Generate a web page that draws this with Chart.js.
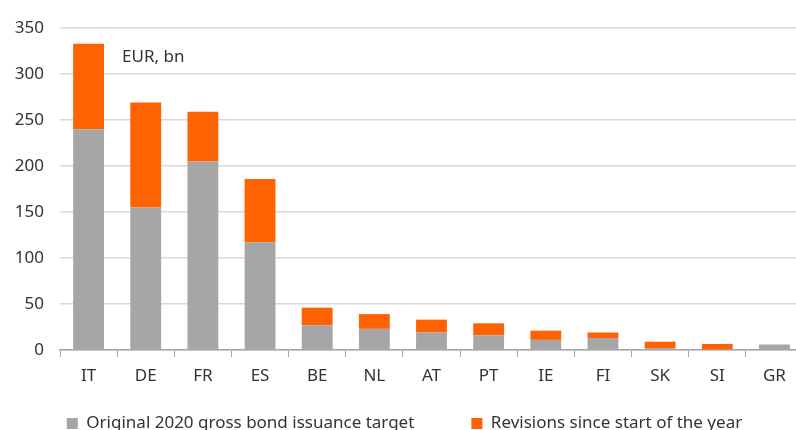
<!DOCTYPE html>
<html>
<head>
<meta charset="utf-8">
<script src="https://cdn.jsdelivr.net/npm/chart.js@4"></script>
<style>
  html, body { margin: 0; padding: 0; background: #fff; overflow: hidden; }
  #wrap { width: 796px; height: 430px; overflow: hidden; }
</style>
</head>
<body>
<div id="wrap"><canvas id="issuanceChart" width="806" height="430"></canvas></div>
<script>
const countries = ["IT", "DE", "FR", "ES", "BE", "NL", "AT", "PT", "IE", "FI", "SK", "SI", "GR"];
const originalTarget = [240, 155, 205, 117, 27, 23, 19, 16, 11, 13, 2, 0.5, 6];
const revisions = [93, 114, 54, 69, 19, 16, 14, 13, 10, 6, 7, 6, 0];
const yTicks = [0, 50, 100, 150, 200, 250, 300, 350];

const FONT = "'Noto Sans', sans-serif";
const TEXT = "#333333";
const LEGEND_PAD = 57;

// "EUR, bn" unit label inside the plot
const unitLabel = {
  id: "unitLabel",
  afterDraw(chart) {
    const c = chart.ctx;
    c.save();
    c.font = "17px " + FONT;
    c.fillStyle = TEXT;
    c.textBaseline = "middle";
    c.fillText("EUR, bn", 122, 57);
    c.restore();
  }
};

// the wide item spacing also pads the legend vertically, so stretch its box
// upward (it clips to itself) and let the row sit at the bottom edge
const legendRow = {
  id: "legendRow",
  afterLayout(chart) {
    const lg = chart.legend;
    lg.top = 415 - LEGEND_PAD;
    lg.height = lg.bottom - lg.top;
    lg.left += 6;
    lg.width = lg.right - lg.left;
  }
};

const ctx = document.getElementById("issuanceChart").getContext("2d");

new Chart(ctx, {
  type: "bar",
  data: {
    labels: countries,
    datasets: [
      {
        label: "Original 2020 gross bond issuance target",
        data: originalTarget,
        backgroundColor: "#a6a6a6",
        categoryPercentage: 1,
        barPercentage: 0.54
      },
      {
        label: "Revisions since start of the year",
        data: revisions,
        backgroundColor: "#ff6200",
        categoryPercentage: 1,
        barPercentage: 0.54
      }
    ]
  },
  options: {
    responsive: false,
    animation: false,
    layout: { padding: { top: 28, right: 3, left: 0, bottom: 0 } },
    plugins: {
      tooltip: { enabled: false },
      legend: {
        position: "bottom",
        maxHeight: 44,
        labels: {
          font: { family: FONT, size: 17 },
          color: TEXT,
          boxWidth: 11,
          boxHeight: 11,
          padding: LEGEND_PAD
        }
      }
    },
    scales: {
      x: {
        stacked: true,
        afterFit: s => { s.height = 36; },
        grid: {
          offset: true,
          drawOnChartArea: false,
          tickLength: 7,
          color: "#a6a6a6"
        },
        border: { color: "#a6a6a6", width: 1.5 },
        ticks: {
          font: { family: FONT, size: 17 },
          color: TEXT,
          padding: 9
        }
      },
      y: {
        stacked: true,
        min: 0,
        max: 350,
        afterFit: s => { s.width = 60; },
        afterBuildTicks: s => { s.ticks = yTicks.map(v => ({ value: v })); },
        grid: { color: "#d9d9d9", lineWidth: 1.5, drawTicks: false },
        border: { display: false },
        ticks: {
          font: { family: FONT, size: 17 },
          color: TEXT,
          padding: 16
        }
      }
    }
  },
  plugins: [unitLabel, legendRow]
});
</script>
</body>
</html>
